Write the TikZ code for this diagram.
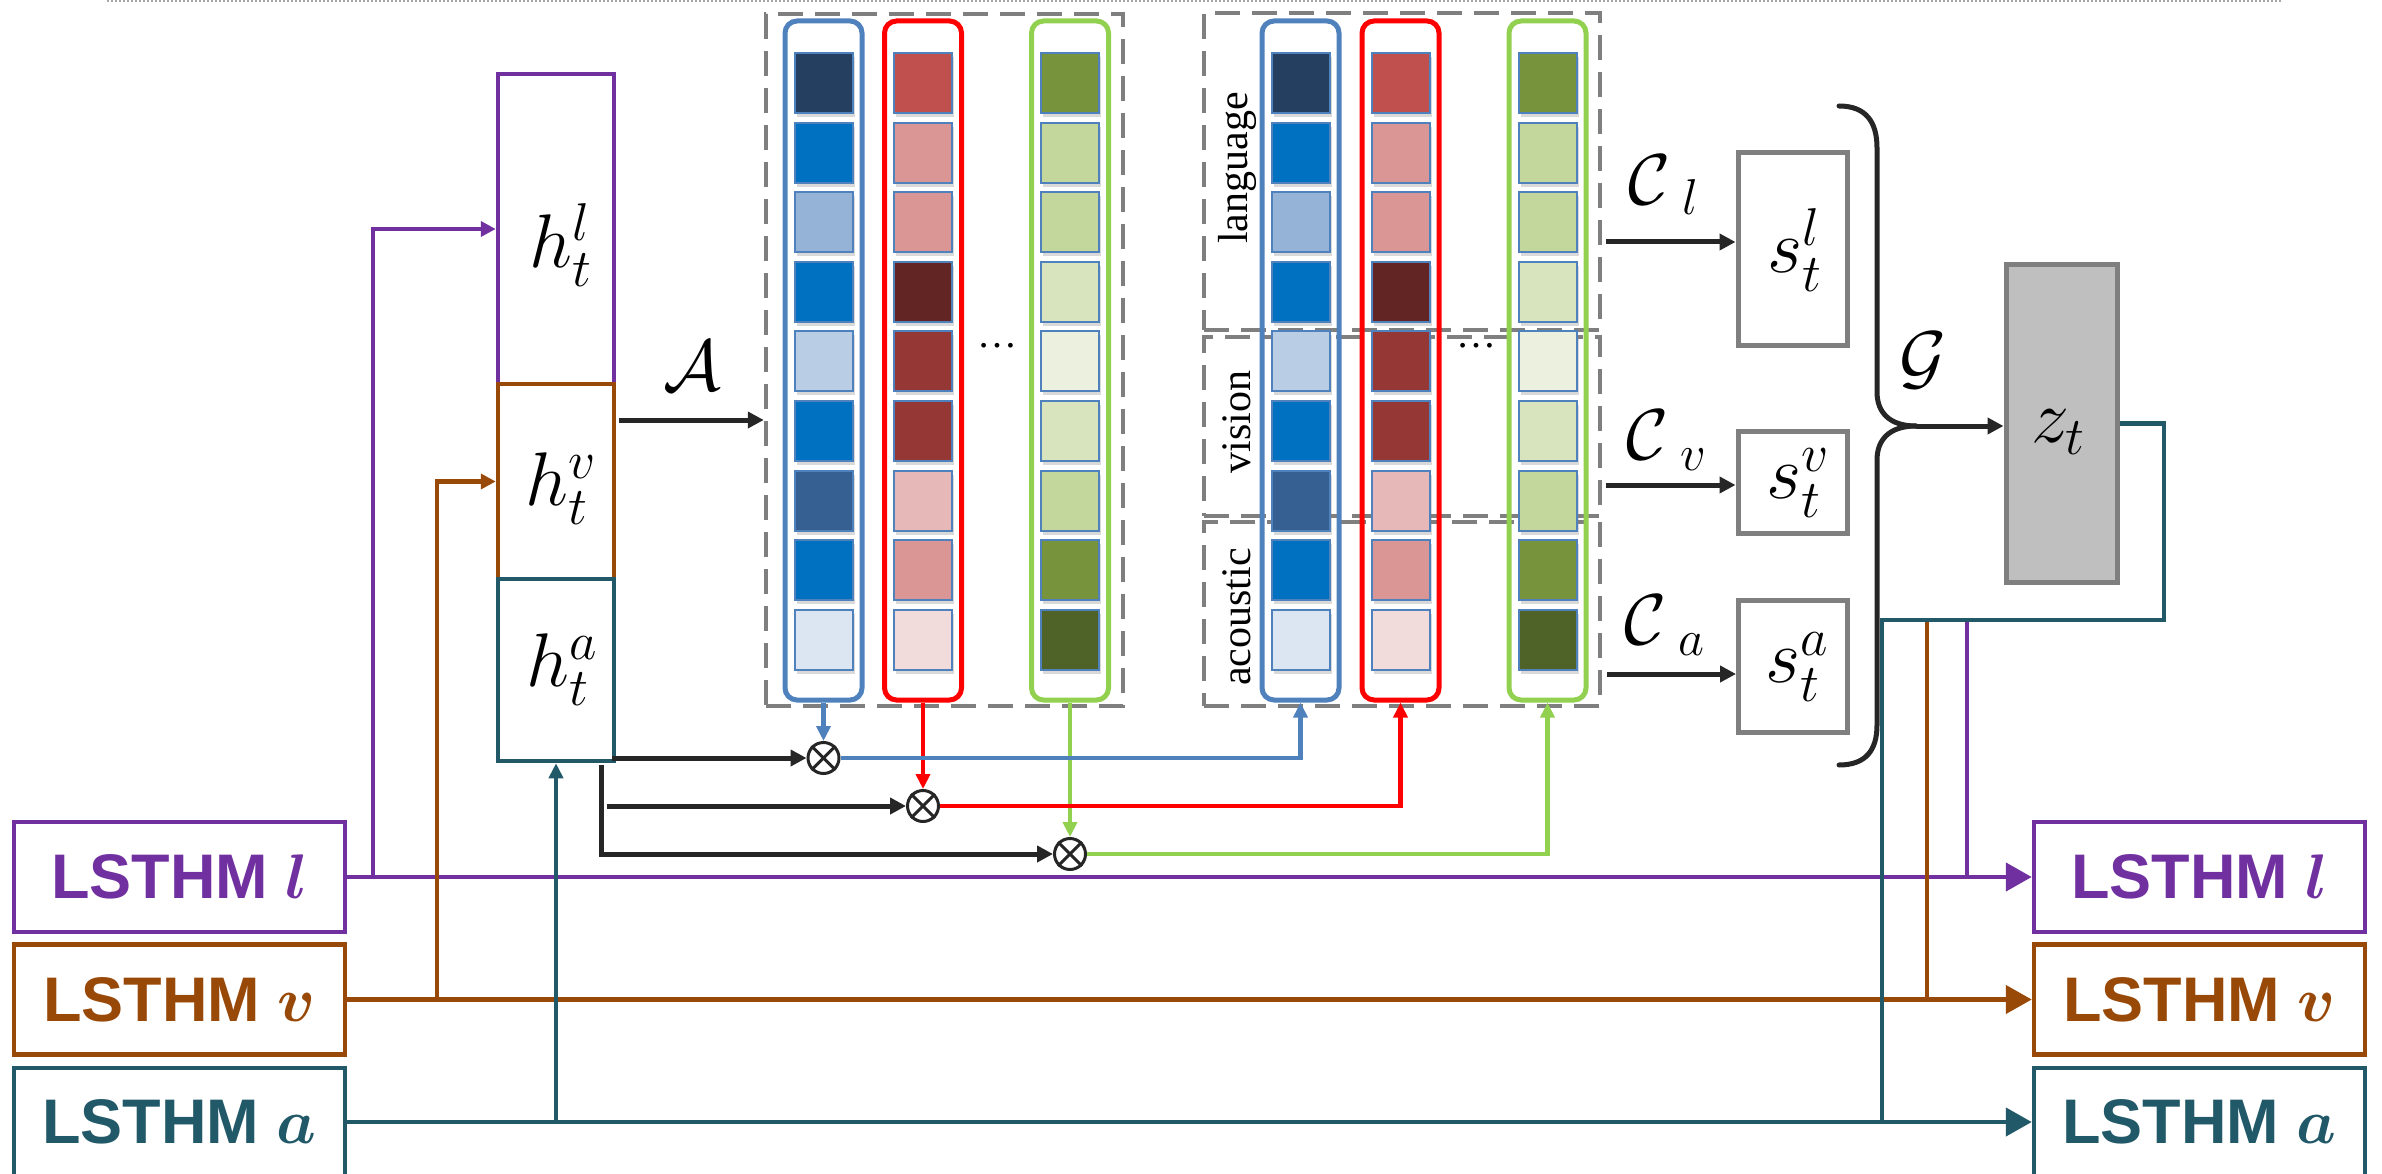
\RequirePackage{fix-cm}
\documentclass[tikz,border=0pt]{standalone}
\usepackage{fontspec}
\usepackage{bm}
\usetikzlibrary{arrows.meta,shadows}
\newfontfamily\sansb{Liberation Sans}
\newfontfamily\serifl{Liberation Serif}
\definecolor{cpur}{HTML}{7030A0}
\definecolor{cbrn}{HTML}{984807}
\definecolor{ctea}{HTML}{215968}
\definecolor{cblue}{HTML}{4F81BD}
\definecolor{cred}{HTML}{FF0000}
\definecolor{cgrn}{HTML}{92D050}
\definecolor{cgray}{HTML}{7F7F7F}
\definecolor{cblk}{HTML}{262626}
\definecolor{zfill}{HTML}{BFBFBF}
% cell colours
\definecolor{b1}{HTML}{243F60}\definecolor{b2}{HTML}{0070C0}\definecolor{b3}{HTML}{95B3D7}
\definecolor{b4}{HTML}{0070C0}\definecolor{b5}{HTML}{B9CDE5}\definecolor{b6}{HTML}{0070C0}
\definecolor{b7}{HTML}{376092}\definecolor{b8}{HTML}{0070C0}\definecolor{b9}{HTML}{DCE6F2}
\definecolor{r1}{HTML}{C0504D}\definecolor{r2}{HTML}{D99694}\definecolor{r3}{HTML}{D99694}
\definecolor{r4}{HTML}{632523}\definecolor{r5}{HTML}{953735}\definecolor{r6}{HTML}{953735}
\definecolor{r7}{HTML}{E6B9B8}\definecolor{r8}{HTML}{D99694}\definecolor{r9}{HTML}{F2DCDB}
\definecolor{g1}{HTML}{77933C}\definecolor{g2}{HTML}{C3D69B}\definecolor{g3}{HTML}{C3D69B}
\definecolor{g4}{HTML}{D7E4BD}\definecolor{g5}{HTML}{EBF1DE}\definecolor{g6}{HTML}{D7E4BD}
\definecolor{g7}{HTML}{C3D69B}\definecolor{g8}{HTML}{77933C}\definecolor{g9}{HTML}{4F6228}
\begin{document}
\begin{tikzpicture}[x=1pt,y=-1pt,
  lstbox/.style={draw, line width=4.5pt, minimum width=331pt, minimum height=110pt, inner sep=0pt,
     font=\sansb\bfseries\fontsize{63}{70}\selectfont},
  hbox/.style={draw, line width=4.5pt, minimum width=116pt, inner sep=0pt},
  sbox/.style={draw=cgray, line width=5pt, minimum width=109pt, inner sep=0pt},
  dbox/.style={draw=cgray, line width=4.5pt, dash pattern=on 25pt off 12pt, inner sep=0pt},
  colbox/.style={rounded corners=12pt, line width=5pt, minimum width=77pt, minimum height=679pt, inner sep=0pt},
  cell/.style={draw=cblue, line width=2pt, minimum width=58pt, minimum height=60pt, inner sep=0pt,
     drop shadow={shadow xshift=2pt, shadow yshift=-4pt, opacity=0.3}},
  otimesnode/.style={circle, draw=cblk, line width=3pt, minimum size=31pt, inner sep=0pt},
  blk/.style={draw=cblk, line width=5pt, -{Triangle[length=16pt,width=16pt]}},
  bigarr/.style={line width=4.5pt, -{Triangle[length=26pt,width=28pt]}},
  smallarr/.style={line width=4.5pt, -{Triangle[length=15pt,width=14pt]}},
  plain/.style={line width=4.5pt},
  mathlbl/.style={inner sep=0pt, font=\fontsize{72}{86}\selectfont},
  hlbl/.style={inner sep=0pt, font=\fontsize{76}{90}\selectfont},
  modlbl/.style={inner sep=0pt, rotate=90, font=\serifl\fontsize{42}{50}\selectfont},
  dotlbl/.style={inner sep=0pt, font=\serifl\fontsize{40}{48}\selectfont},
  brace/.style={draw=cblk, line width=5pt, line cap=round}
]
\useasboundingbox (0,0) rectangle (2382,1174);
\clip (0,0) rectangle (2382,1174);

% top dotted rule
\draw[gray!70, line width=1.2pt, dash pattern=on 1.5pt off 2.5pt] (107,1) -- (2282,1);

% dashed groups
\node[dbox, minimum width=357pt, minimum height=692pt] (grp1) at (944.5,360) {};
\node[dbox, minimum width=396pt, minimum height=317pt] (glang) at (1402,171.5) {};
\node[dbox, minimum width=396pt, minimum height=179pt] (gvis) at (1402,426.5) {};
\node[dbox, minimum width=396pt, minimum height=184pt] (gac) at (1402,614) {};

\node[modlbl] (tlang) at (1237,168) {language};
\node[modlbl] (tvis) at (1237,422) {vision};
\node[modlbl] (tac) at (1237,617) {acoustic};

% columns
\foreach \cx/\cc/\k in {823.5/cblue/1, 923/cred/2, 1070/cgrn/3, 1300.5/cblue/4, 1400.5/cred/5, 1547.5/cgrn/6}
  \node[colbox, draw=\cc] (col\k) at (\cx,360.5) {};

% cells
\foreach \i in {1,...,9}{
  \pgfmathsetmacro\cy{83+69.6*(\i-1)}
  \foreach \cx/\p/\k in {823.5/b/1, 923/r/2, 1070/g/3, 1300.5/b/4, 1400.5/r/5, 1547.5/g/6}
    \node[cell, fill=\p\i] (c\k-\i) at (\cx,\cy) {};
}

\node[dotlbl] (dots1) at (997,346) {…};
\node[dotlbl] (dots2) at (1476,346) {…};

% h boxes
\node[hbox, draw=cpur, minimum height=310pt] (hl) at (556,229) {};
\node[hbox, draw=cbrn, minimum height=195pt] (hv) at (556,481.5) {};
\node[hbox, draw=ctea, minimum height=182pt] (ha) at (556,670) {};
\node[hlbl] (hlT) at (561,245) {$h_t^l$};
\node[hlbl] (hvT) at (561,489) {$h_t^v$};
\node[hlbl] (haT) at (562,670) {$h_t^a$};

% A arrow
\node[mathlbl] (lblA) at (692,366) {$\mathcal{A}$};
\coordinate (aS) at (619,420);
\draw[blk] (aS) -- (aS -| grp1.west);

% LSTHM boxes
\node[lstbox, draw=cpur, text=cpur] (Ll) at (179.5,877) {LSTHM $\bm{l}$};
\node[lstbox, draw=cbrn, text=cbrn] (Lv) at (179.5,999.5) {LSTHM $\bm{v}$};
\node[lstbox, draw=ctea, text=ctea, minimum height=108pt] (La) at (179.5,1122) {LSTHM $\bm{a}$};
\node[lstbox, draw=cpur, text=cpur] (Rl) at (2199.5,877) {LSTHM $\bm{l}$};
\node[lstbox, draw=cbrn, text=cbrn] (Rv) at (2199.5,999.5) {LSTHM $\bm{v}$};
\node[lstbox, draw=ctea, text=ctea, minimum height=108pt] (Ra) at (2199.5,1122) {LSTHM $\bm{a}$};

% main horizontal lines
\draw[bigarr, cpur] (Ll.east) -- (Rl.west);
\draw[bigarr, cbrn] (Lv.east) -- (Rv.west);
\draw[bigarr, ctea] (La.east) -- (Ra.west);

% branches into h boxes
\coordinate (jl) at (373,877);
\coordinate (jv) at (437,999.5);
\coordinate (ja) at (556,1122);
\draw[plain, cpur, -{Triangle[length=15pt,width=15pt]}] (jl) |- (hl.west);
\draw[plain, cbrn, -{Triangle[length=15pt,width=15pt]}] (jv) |- (hv.west);
\draw[plain, ctea, -{Triangle[length=15pt,width=14pt]}] (ja) -- (ha.south);

% otimes nodes
\node[otimesnode] (m1) at (823.5,758) {};
\node[otimesnode] (m2) at (923,806) {};
\node[otimesnode] (m3) at (1070,854) {};
\foreach \m in {m1,m2,m3}{
  \draw[cblk, line width=3pt] (\m.north west) -- (\m.south east);
  \draw[cblk, line width=3pt] (\m.north east) -- (\m.south west);
}

% black arrows from h^a
\coordinate (k1) at (612,758);
\coordinate (k2) at (607,806);
\coordinate (k3) at (601,765);
\draw[blk] (k1) -- (m1.west);
\draw[blk] (k2) -- (m2.west);
\draw[blk, line join=miter] (k3) |- (m3.west);

% coloured attention arrows
\draw[smallarr, cblue] (col1.south) -- (m1.north);
\draw[smallarr, cred] (col2.south) -- (m2.north);
\draw[smallarr, cgrn] (col3.south) -- (m3.north);
\draw[smallarr, cblue] (m1.east) -| (col4.south);
\draw[smallarr, cred] (m2.east) -| (col5.south);
\draw[smallarr, cgrn] (m3.east) -| (col6.south);

% s boxes
\node[sbox, minimum height=192pt] (sl) at (1792.5,249) {};
\node[sbox, minimum height=102pt] (sv) at (1792.5,482) {};
\node[sbox, minimum height=132pt] (sa) at (1793,666) {};
\node[hlbl] (slT) at (1795,250) {$s_t^l$};
\node[hlbl] (svT) at (1798,483) {$s_t^v$};
\node[hlbl] (saT) at (1797,667) {$s_t^a$};

\node[mathlbl, anchor=west] (lblCl) at (1628,185) {$\mathcal{C}_{\hspace{16pt}l}$};
\node[mathlbl, anchor=west] (lblCv) at (1626,440) {$\mathcal{C}_{\hspace{16pt}v}$};
\node[mathlbl, anchor=west] (lblCa) at (1624,625) {$\mathcal{C}_{\hspace{16pt}a}$};
\coordinate (cl) at (1606,242);
\coordinate (cv) at (1606,485);
\coordinate (ca) at (1607,674);
\draw[blk] (cl) -- (cl -| sl.west);
\draw[blk] (cv) -- (cv -| sv.west);
\draw[blk] (ca) -- (ca -| sa.west);

% brace G
\draw[brace] (1839,106) .. controls (1866,106) and (1877,122) .. (1877,148) -- (1877,392)
   .. controls (1877,412) and (1889,426) .. (1916,426) coordinate (gcusp);
\draw[brace] (gcusp) .. controls (1889,426) and (1877,440) .. (1877,460) -- (1877,725)
   .. controls (1877,750) and (1866,765) .. (1839,765);
\node[mathlbl] (lblG) at (1923,360) {$\mathcal{G}$};

% z_t
\node[draw=cgray, fill=zfill, line width=5pt, minimum width=111pt, minimum height=317pt, inner sep=0pt] (zt) at (2061.5,423.5) {};
\node[hlbl] (ztT) at (2058,432) {$z_t$};
\draw[blk] (gcusp) -- (gcusp -| zt.west);

% feedback to LSTHMs
\coordinate (fr) at (2164,620);
\coordinate (fa) at (1882,620);
\coordinate (fv) at (1927,620);
\coordinate (fl) at (1967,620);
\draw[plain, cbrn] (fv) -- (fv |- Rv.west);
\draw[plain, cpur] (fl) -- (fl |- Rl.west);
\draw[plain, ctea, line join=miter] (zt.east) -| (fr) -- (fa) -- (fa |- Ra.west);
\end{tikzpicture}
\end{document}
